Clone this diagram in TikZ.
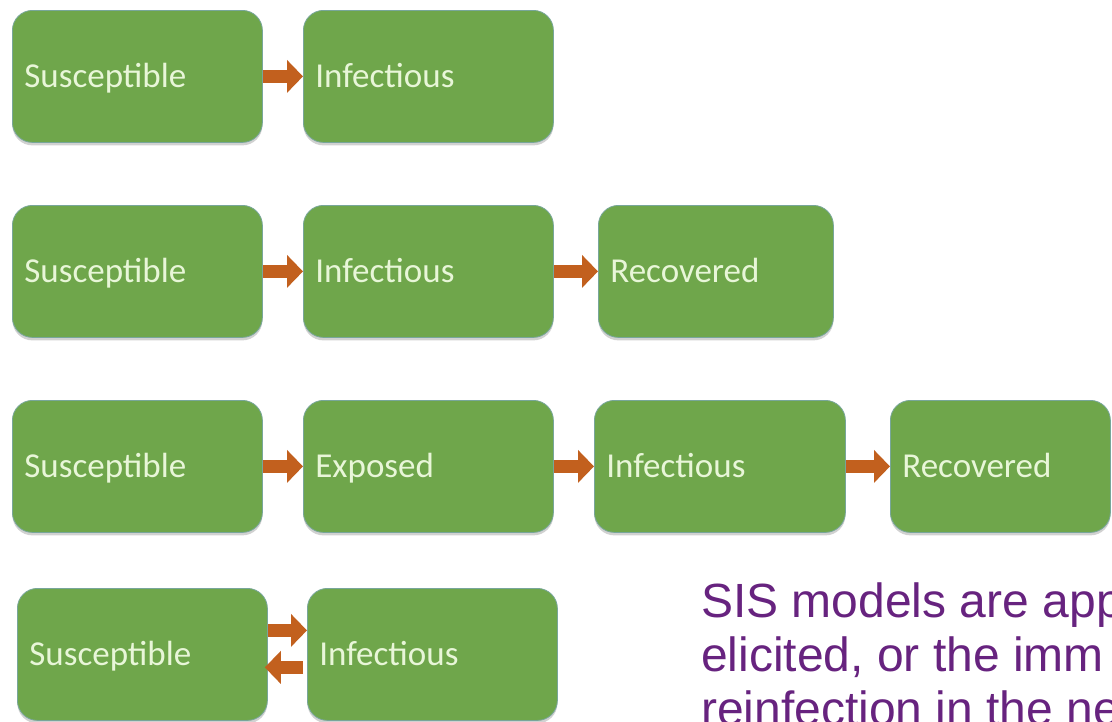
\documentclass[tikz,border=0pt]{standalone}
\usepackage{fontspec}
\newfontfamily\boxfont{Carlito}
\newfontfamily\sisfont{Liberation Sans}
\usetikzlibrary{arrows.meta,shadows}
\definecolor{boxgreen}{HTML}{6FA64B}
\definecolor{boxedge}{HTML}{78A69A}
\definecolor{boxtext}{HTML}{E8F6D8}
\definecolor{arrowc}{HTML}{C2601E}
\definecolor{sispurple}{HTML}{67237F}
\tikzset{
  box/.style={rounded corners=20pt, fill=boxgreen, draw=boxedge, line width=0.8pt,
    minimum height=132pt, inner xsep=12pt, inner ysep=0pt,
    text height=23pt, text depth=0pt, align=left, anchor=north west,
    font=\boxfont\fontsize{35}{42}\selectfont, text=boxtext,
    drop shadow={shadow xshift=0pt, shadow yshift=-3pt, fill=black, opacity=0.18}},
  flow/.style={draw=arrowc, line width=13pt, -{Triangle[width=32pt,length=16pt]}},
  sis/.style={anchor=base west, inner sep=0pt, text=sispurple,
    font=\sisfont\fontsize{48}{54}\selectfont}
}
\begin{document}
\begin{tikzpicture}[x=1pt,y=-1pt]
\useasboundingbox (0,0) rectangle (1112,721);
\fill[white] (0,0) rectangle (1112,721);
\clip (0,0) rectangle (1112,721);
% row 1
\node[box, text width=226pt] (a1) at (12,10) {Susceptible};
\node[box, text width=226pt] (b1) at (303,10) {Infectious};
\draw[flow] (a1.east) -- (b1.west);
% row 2
\node[box, text width=226pt] (a2) at (12,205) {Susceptible};
\node[box, text width=226pt] (b2) at (303,205) {Infectious};
\node[box, text width=211pt] (c2) at (598,205) {Recovered};
\draw[flow] (a2.east) -- (b2.west);
\draw[flow] (b2.east) -- (c2.west);
% row 3
\node[box, text width=226pt] (a3) at (12,400) {Susceptible};
\node[box, text width=226pt] (b3) at (303,400) {Exposed};
\node[box, text width=227pt] (c3) at (594,400) {Infectious};
\node[box, text width=196pt] (d3) at (890,400) {Recovered};
\draw[flow] (a3.east) -- (b3.west);
\draw[flow] (b3.east) -- (c3.west);
\draw[flow] (c3.east) -- (d3.west);
% row 4
\node[box, text width=226pt] (a4) at (17,588) {Susceptible};
\node[box, text width=226pt] (b4) at (307,588) {Infectious};
\draw[flow] ([yshift=24pt]a4.east) -- ([yshift=24pt]b4.west);
\draw[flow] ([xshift=-4pt,yshift=-13pt]b4.west) -- ([xshift=-3pt,yshift=-13pt]a4.east);
% text
\node[sis] (t1) at (701,617) {SIS models are app};
\node[sis] (t2) at (701,671) {elicited, or the imm};
\node[sis] (t3) at (701,725) {reinfection in the ne};
\end{tikzpicture}
\end{document}
